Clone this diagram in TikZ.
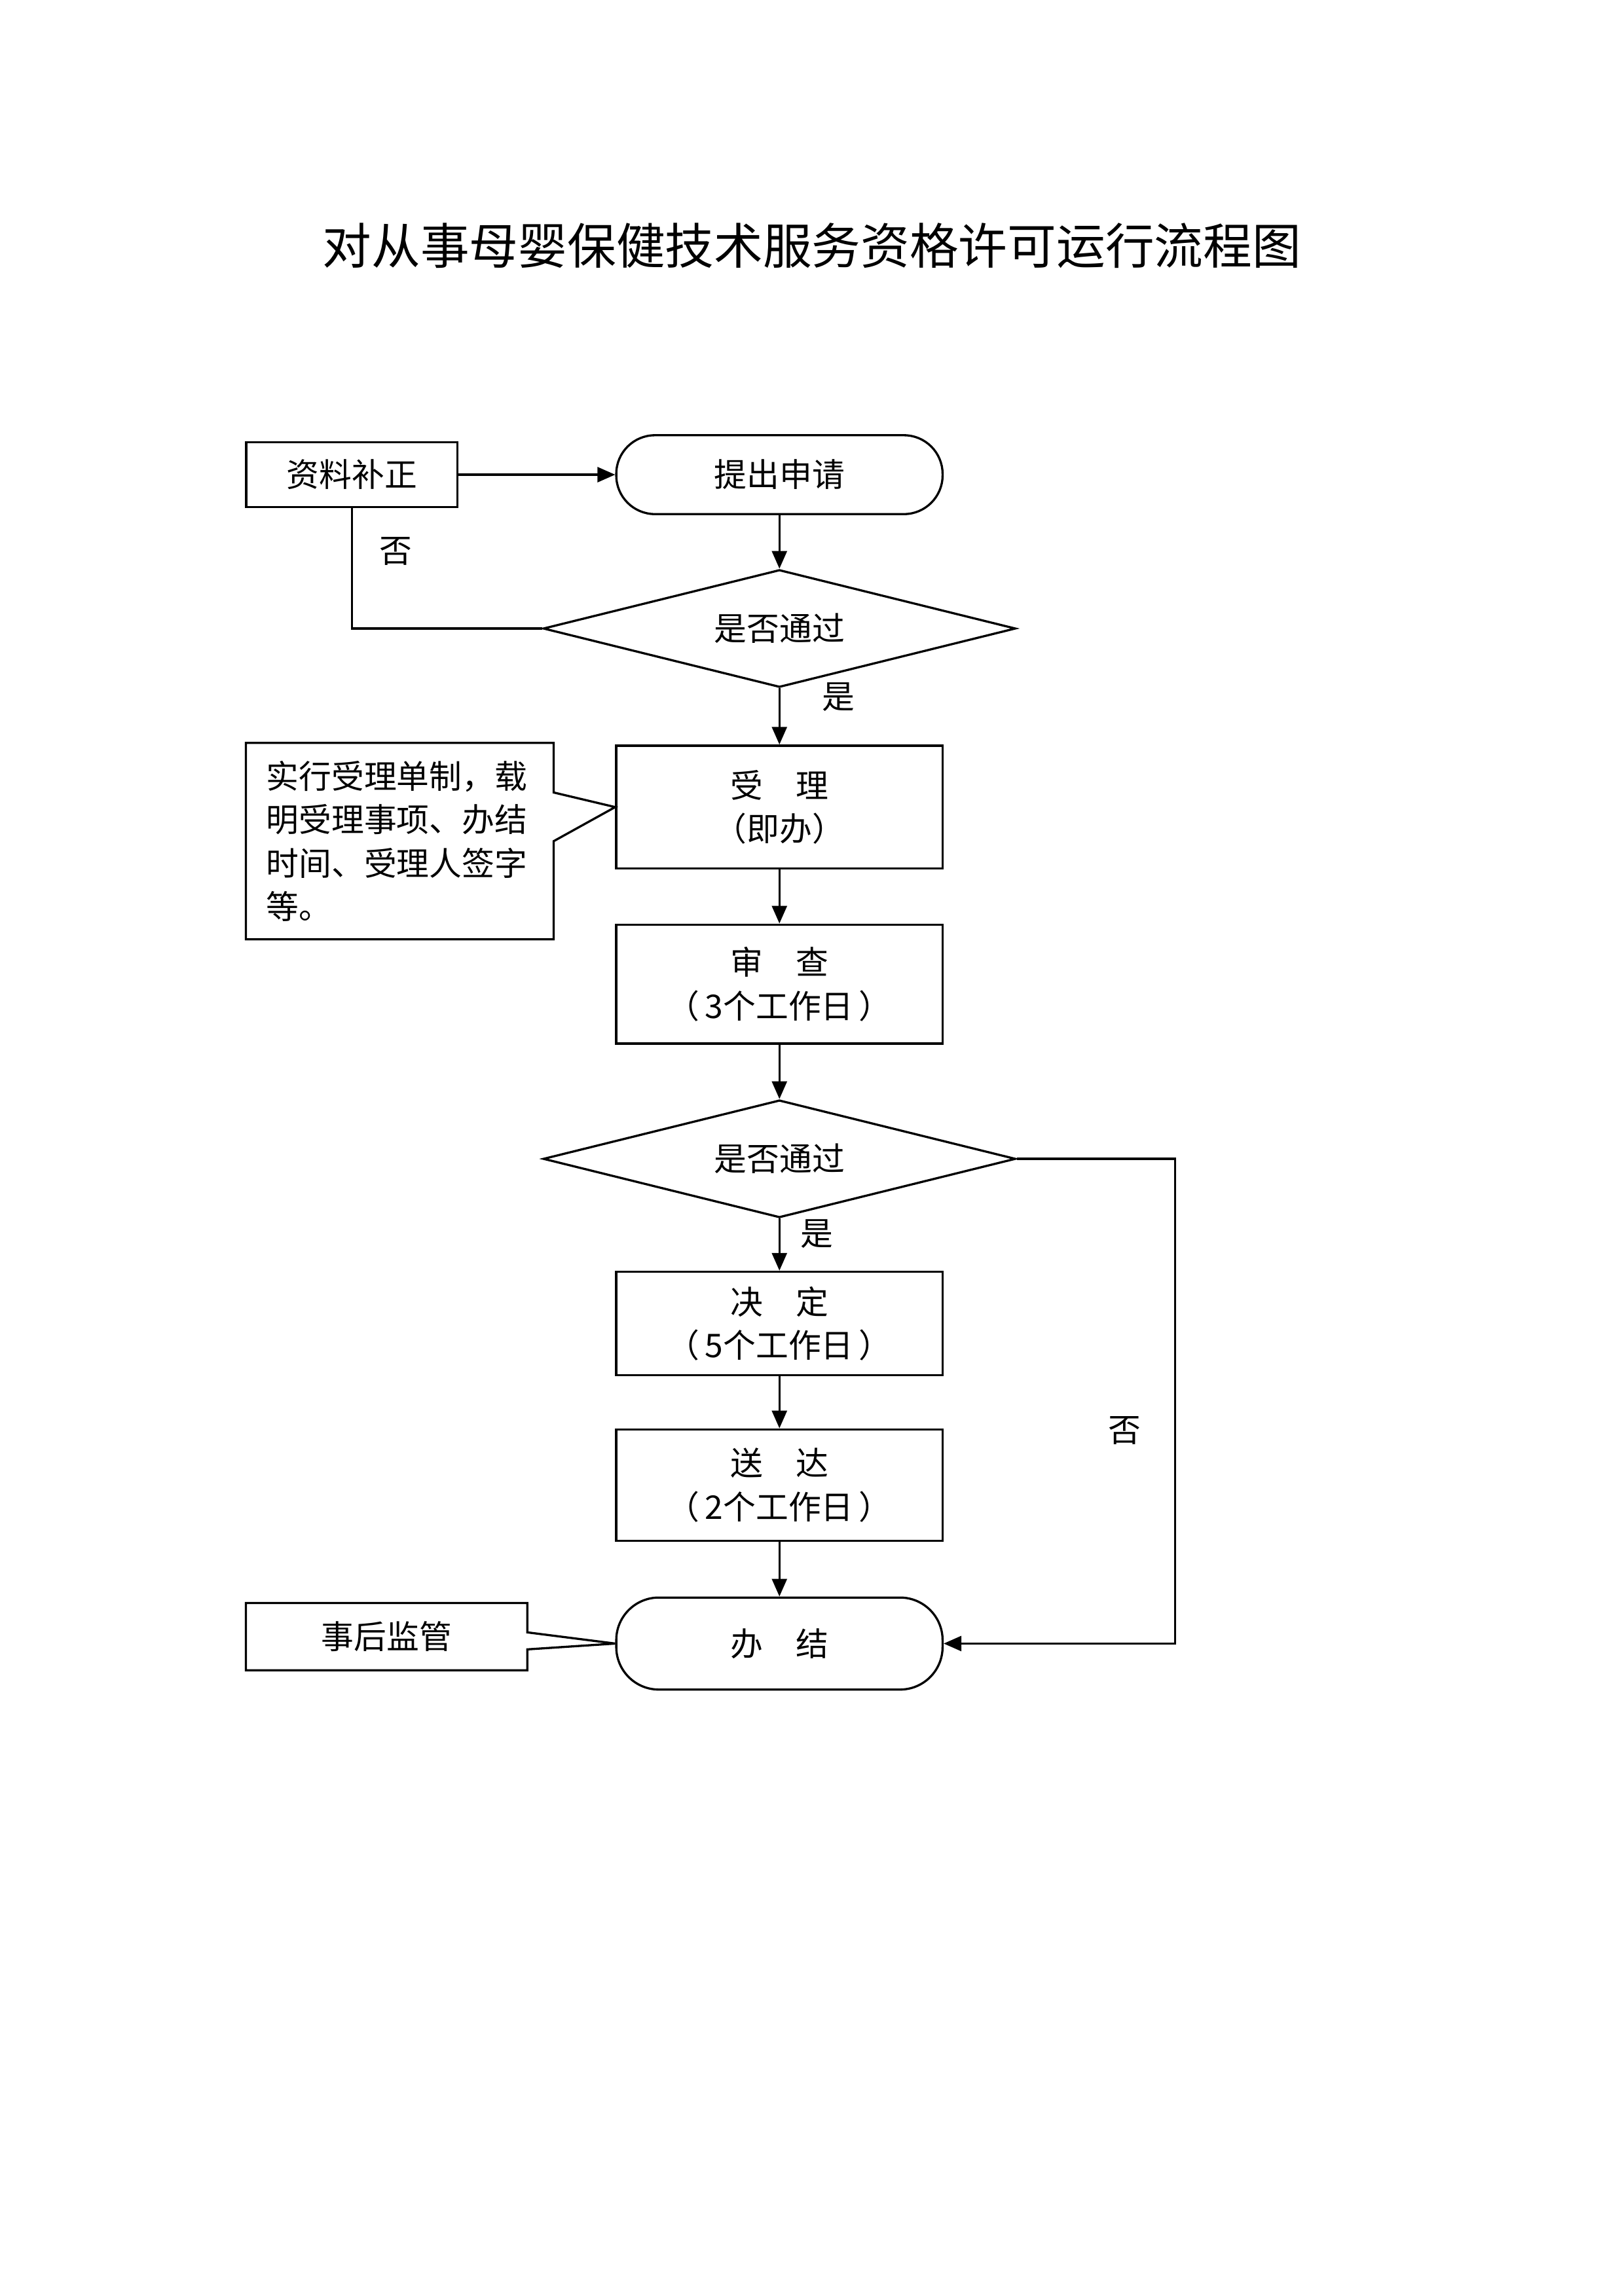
\documentclass[tikz,border=0pt]{standalone}
\usepackage{fontspec}
\setmainfont{Noto Sans CJK SC}
\usetikzlibrary{shapes.geometric, shapes.callouts, positioning, arrows.meta}
\tikzset{
    flow edge/.style = {draw, line width=0.8pt, -{Triangle[length=6.5pt, width=5.5pt]}},
    flow line/.style = {draw, line width=0.8pt, -},
    yn/.style = {inner sep=0pt, font=\fontsize{12}{14}\selectfont},
}
\tikzset{
    box/.style = {draw, line width=0.8pt, rectangle, inner sep=0pt, minimum width=4.22cm, align=center, font=\fontsize{12}{16}\selectfont},
    term/.style = {box, rounded corners=0.5cm},
    test/.style = {draw, line width=0.8pt, diamond, aspect=4, inner sep=0pt, minimum width=6.11cm, minimum height=1.52cm, font=\fontsize{12}{16}\selectfont},
    note/.style = {draw, line width=0.8pt, rectangle callout, inner sep=0pt, font=\fontsize{12}{16}\selectfont},
}

\begin{document}
\begin{tikzpicture}[every node/.style=on grid]
            \useasboundingbox (0,0) rectangle (21,-29.7);
            \node (title) at (10.5,-3.18) {\fontsize{18}{22}\selectfont 对从事母婴保健技术服务资格许可运行流程图};

            \node (sq) [term, minimum height=1.02cm] at (10.08,-6.14) {提出申请};
            \node (d1) [test, below=1.99cm of sq] {是否通过};
            \node (sl) [box, minimum height=1.59cm, below=2.31cm of d1] {受　理\\（即办）};
            \node (sc) [box, minimum height=1.54cm, below=2.29cm of sl] {审　查\\（\,3个工作日\,）};
            \node (d2) [test, below=2.26cm of sc] {是否通过};
            \node (jd) [box, minimum height=1.34cm, below=2.13cm of d2] {决　定\\（\,5个工作日\,）};
            \node (sd) [box, minimum height=1.44cm, below=2.09cm of jd] {送　达\\（\,2个工作日\,）};
            \node (bj) [term, minimum height=1.19cm, rounded corners=0.55cm, below=2.05cm of sd] {办　结};

            \node (zl) [box, minimum width=2.73cm, minimum height=0.84cm] at (4.55,-6.14) {资料补正};
            \node (bz) [note, minimum width=3.98cm, minimum height=2.54cm, text width=3.45cm, align=left,
                callout absolute pointer={(sl.west)}, callout pointer width=0.63cm] at (5.17,-10.88)
                {实行受理单制，载\\明受理事项、办结\\时间、受理人签字\\等。};
            \node (hg) [note, minimum width=3.64cm, minimum height=0.87cm,
                callout absolute pointer={(bj.west)}, callout pointer width=0.22cm] at (5.00,-21.17) {事后监管};

            \draw[flow edge] (zl) -- (sq);
            \draw[flow edge] (sq) -- (d1);
            \draw[flow line] (zl) |- node[pos=0.18, right=0.34cm, yn] {否} (d1);
            \draw[flow edge] (d1) -- node[pos=0.15, right=0.54cm, yn] {是} (sl);
            \draw[flow edge] (sl) -- (sc);
            \draw[flow edge] (sc) -- (d2);
            \draw[flow edge] (d2) -- node[pos=0.29, right=0.26cm, yn] {是} (jd);
            \draw[flow edge] (jd) -- (sd);
            \draw[flow edge] (sd) -- (bj);
            \draw[flow edge] (d2.east) -- ++(2.05,0) coordinate (cr) |- node[pos=0.28, left=0.43cm, yn] {否} (bj.east);
        \end{tikzpicture}
\end{document}
